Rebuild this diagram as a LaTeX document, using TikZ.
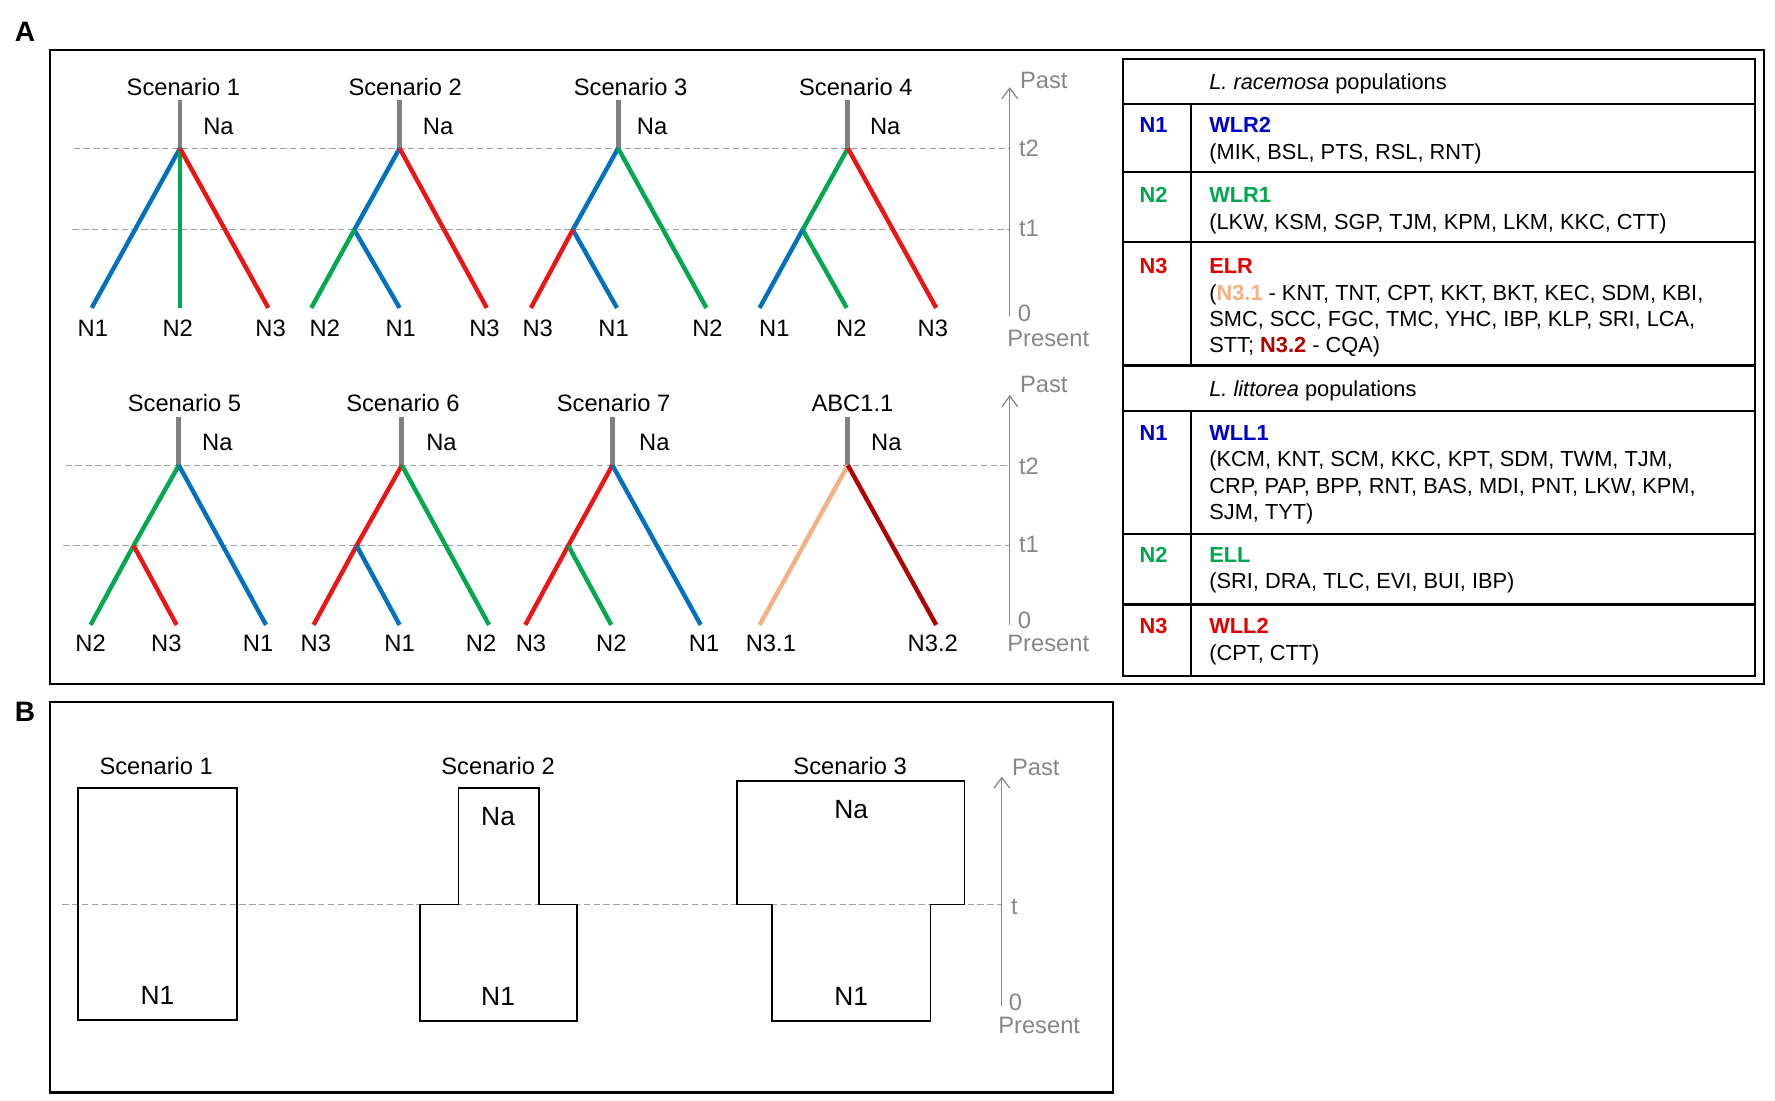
\documentclass[tikz,border=0pt]{standalone}
\usepackage{fontspec}
\setmainfont{Liberation Sans}
\usetikzlibrary{arrows.meta}
\definecolor{brblue}{RGB}{0,112,192}
\definecolor{brgreen}{RGB}{0,168,80}
\definecolor{brred}{RGB}{236,20,20}
\definecolor{brpeach}{RGB}{244,177,131}
\definecolor{brdark}{RGB}{176,0,0}
\definecolor{stemgray}{RGB}{128,128,128}
\definecolor{axisgray}{RGB}{135,135,135}
\definecolor{keyblue}{RGB}{0,0,204}
\definecolor{keygreen}{RGB}{0,166,80}
\definecolor{keyred}{RGB}{228,0,0}

\begin{document}
\begin{tikzpicture}[x=0.02264cm,y=-0.02264cm]
\tikzstyle{every node}+=[inner sep=0pt]
\tikzstyle{lbl}=[font=\fontsize{13.5}{16}\selectfont]
\tikzstyle{graylbl}=[lbl,text=axisgray]
\tikzstyle{boxlbl}=[font=\fontsize{15}{18}\selectfont]
\tikzstyle{tab}=[font=\fontsize{12.4}{15}\selectfont,align=left,anchor=base west]
\tikzstyle{tabkey}=[font=\bfseries\fontsize{12.4}{15}\selectfont,anchor=base]
\tikzstyle{branch}=[line width=2.5pt]
\tikzstyle{nastem}=[line width=2.8pt,draw=stemgray]
\tikzstyle{timeline}=[draw=axisgray!80,line width=0.6pt,dash pattern=on 3.6pt off 2pt]
\tikzstyle{timeaxis}=[draw=axisgray,line width=0.7pt,-{Straight Barb[length=6pt,width=9pt]}]
\tikzstyle{panelbox}=[line width=1.3pt]
\tikzstyle{popbox}=[line width=1.1pt]
\useasboundingbox (0,0) rectangle (1568,972);
\fill[white] (0,0) rectangle (1568,972);

\node[font=\bfseries\fontsize{16}{18}\selectfont] (labA) at (22,28) {A};
\node[font=\bfseries\fontsize{16}{18}\selectfont] (labB) at (22,629) {B};
\draw[panelbox] (44,44) rectangle (1558,604);
\draw[panelbox] (44,620) rectangle (983,965);

\coordinate (ax1lo) at (892,279);
\coordinate (ax1hi) at (892,77);
\coordinate (ax1t2) at (892,131);
\coordinate (ax1t1) at (892,203);
\coordinate (ax2lo) at (892,552);
\coordinate (ax2hi) at (892,349);
\coordinate (ax2t2) at (892,411);
\coordinate (ax2t1) at (892,482);
\coordinate (ax3lo) at (885,889);
\coordinate (ax3hi) at (885,686);
\coordinate (ax3t) at (885,799);
\coordinate (d1a) at (65,131);
\coordinate (d1b) at (64,203);
\coordinate (d2a) at (58,411);
\coordinate (d2b) at (56,482);
\coordinate (d2c) at (704,482);
\coordinate (d2d) at (792,482);
\coordinate (d3) at (55,799);
\draw[timeline] (d1a) -- (ax1t2);
\draw[timeline] (d1b) -- (ax1t1);
\draw[timeline] (d2a) -- (ax2t2);
\draw[timeline] (d2b) -- (d2c);
\draw[timeline] (d2d) -- (ax2t1);
\draw[timeline] (d3) -- (ax3t);
\draw[timeaxis] (ax1lo) -- (ax1hi);
\draw[timeaxis] (ax2lo) -- (ax2hi);
\draw[timeaxis] (ax3lo) -- (ax3hi);
\node[graylbl] (ax1past) at (922,71) {Past};
\node[graylbl] (ax1lt2) at (909,131) {t2};
\node[graylbl] (ax1lt1) at (909,202) {t1};
\node[graylbl] (ax1zero) at (905,277) {0};
\node[graylbl] (ax1pres) at (926,299) {Present};
\node[graylbl] (ax2past) at (922,340) {Past};
\node[graylbl] (ax2lt2) at (909,412) {t2};
\node[graylbl] (ax2lt1) at (909,481) {t1};
\node[graylbl] (ax2zero) at (905,548) {0};
\node[graylbl] (ax2pres) at (926,568) {Present};
\node[graylbl] (ax3past) at (915,678) {Past};
\node[graylbl] (ax3lt) at (896,801) {t};
\node[graylbl] (ax3zero) at (897,885) {0};
\node[graylbl] (ax3pres) at (918,906) {Present};

\coordinate (s1top) at (159,88);
\coordinate (s1r) at (159,131);
\coordinate (s1a) at (81,272);
\coordinate (s1b) at (159,272);
\coordinate (s1c) at (237,272);
\draw[nastem] (s1top) -- (s1r);
\draw[branch,brblue] (s1r) -- (s1a);
\draw[branch,brgreen] (s1r) -- (s1b);
\draw[branch,brred] (s1r) -- (s1c);
\node[lbl] (s1t) at (162,77) {Scenario 1};
\node[lbl] (s1na) at (193,112) {Na};
\node[lbl] (s1la) at (82,290) {N1};
\node[lbl] (s1lb) at (157,290) {N2};
\node[lbl] (s1lc) at (239,290) {N3};

\coordinate (s2top) at (353,88);
\coordinate (s2r) at (353,131);
\coordinate (s2i) at (313,203);
\coordinate (s2a) at (275,272);
\coordinate (s2b) at (353,272);
\coordinate (s2c) at (430,272);
\draw[nastem] (s2top) -- (s2r);
\draw[branch,brblue] (s2r) -- (s2i) -- (s2b);
\draw[branch,brgreen] (s2i) -- (s2a);
\draw[branch,brred] (s2r) -- (s2c);
\node[lbl] (s2t) at (358,77) {Scenario 2};
\node[lbl] (s2na) at (387,112) {Na};
\node[lbl] (s2la) at (287,290) {N2};
\node[lbl] (s2lb) at (354,290) {N1};
\node[lbl] (s2lc) at (428,290) {N3};

\coordinate (s3top) at (546,88);
\coordinate (s3r) at (546,131);
\coordinate (s3i) at (506,203);
\coordinate (s3a) at (469,272);
\coordinate (s3b) at (545,272);
\coordinate (s3c) at (624,272);
\draw[nastem] (s3top) -- (s3r);
\draw[branch,brblue] (s3r) -- (s3i) -- (s3b);
\draw[branch,brred] (s3i) -- (s3a);
\draw[branch,brgreen] (s3r) -- (s3c);
\node[lbl] (s3t) at (557,77) {Scenario 3};
\node[lbl] (s3na) at (576,112) {Na};
\node[lbl] (s3la) at (475,290) {N3};
\node[lbl] (s3lb) at (542,290) {N1};
\node[lbl] (s3lc) at (625,290) {N2};

\coordinate (s4top) at (749,88);
\coordinate (s4r) at (749,131);
\coordinate (s4i) at (709,203);
\coordinate (s4a) at (671,272);
\coordinate (s4b) at (748,272);
\coordinate (s4c) at (827,272);
\draw[nastem] (s4top) -- (s4r);
\draw[branch,brgreen] (s4r) -- (s4i) -- (s4b);
\draw[branch,brblue] (s4i) -- (s4a);
\draw[branch,brred] (s4r) -- (s4c);
\node[lbl] (s4t) at (756,77) {Scenario 4};
\node[lbl] (s4na) at (782,112) {Na};
\node[lbl] (s4la) at (684,290) {N1};
\node[lbl] (s4lb) at (752,290) {N2};
\node[lbl] (s4lc) at (824,290) {N3};

\coordinate (s5top) at (158,368);
\coordinate (s5r) at (158,411);
\coordinate (s5i) at (118,482);
\coordinate (s5a) at (80,552);
\coordinate (s5b) at (156,552);
\coordinate (s5c) at (235,552);
\draw[nastem] (s5top) -- (s5r);
\draw[branch,brgreen] (s5r) -- (s5i) -- (s5a);
\draw[branch,brred] (s5i) -- (s5b);
\draw[branch,brblue] (s5r) -- (s5c);
\node[lbl] (s5t) at (163,356) {Scenario 5};
\node[lbl] (s5na) at (192,391) {Na};
\node[lbl] (s5la) at (80,568) {N2};
\node[lbl] (s5lb) at (147,568) {N3};
\node[lbl] (s5lc) at (228,568) {N1};

\coordinate (s6top) at (355,368);
\coordinate (s6r) at (355,411);
\coordinate (s6i) at (315,482);
\coordinate (s6a) at (277,552);
\coordinate (s6b) at (353,552);
\coordinate (s6c) at (432,552);
\draw[nastem] (s6top) -- (s6r);
\draw[branch,brred] (s6r) -- (s6i) -- (s6a);
\draw[branch,brblue] (s6i) -- (s6b);
\draw[branch,brgreen] (s6r) -- (s6c);
\node[lbl] (s6t) at (356,356) {Scenario 6};
\node[lbl] (s6na) at (390,391) {Na};
\node[lbl] (s6la) at (279,568) {N3};
\node[lbl] (s6lb) at (353,568) {N1};
\node[lbl] (s6lc) at (425,568) {N2};

\coordinate (s7top) at (541,368);
\coordinate (s7r) at (541,411);
\coordinate (s7i) at (502,482);
\coordinate (s7a) at (464,552);
\coordinate (s7b) at (540,552);
\coordinate (s7c) at (619,552);
\draw[nastem] (s7top) -- (s7r);
\draw[branch,brred] (s7r) -- (s7i) -- (s7a);
\draw[branch,brgreen] (s7i) -- (s7b);
\draw[branch,brblue] (s7r) -- (s7c);
\node[lbl] (s7t) at (542,356) {Scenario 7};
\node[lbl] (s7na) at (578,391) {Na};
\node[lbl] (s7la) at (469,568) {N3};
\node[lbl] (s7lb) at (540,568) {N2};
\node[lbl] (s7lc) at (622,568) {N1};

\coordinate (abctop) at (749,368);
\coordinate (abcr) at (749,411);
\coordinate (abca) at (671,552);
\coordinate (abcc) at (827,552);
\draw[nastem] (abctop) -- (abcr);
\draw[branch,brpeach] (abcr) -- (abca);
\draw[branch,brdark] (abcr) -- (abcc);
\node[lbl] (abct) at (753,356) {ABC1.1};
\node[lbl] (abcna) at (783,391) {Na};
\node[lbl] (abcla) at (681,568) {N3.1};
\node[lbl] (abclc) at (824,568) {N3.2};

\draw[panelbox] (992,52) rectangle (1550,597);
\draw[panelbox] (992,92) -- (1550,92);
\draw[panelbox] (992,152) -- (1550,152);
\draw[panelbox] (992,214) -- (1550,214);
\draw[panelbox] (992,323) -- (1550,323);
\draw[panelbox] (992,363) -- (1550,363);
\draw[panelbox] (992,472) -- (1550,472);
\draw[panelbox] (992,534) -- (1550,534);
\draw[panelbox] (1052,92) -- (1052,323);
\draw[panelbox] (1052,363) -- (1052,597);
\node[tab] (hrac) at (1068,79) {\textit{L. racemosa} populations};
\node[tabkey,keyblue] (kr1) at (1019,117.3) {N1};
\node[tab] (tr1) at (1068,140.6) {{\bfseries\color{keyblue}WLR2}\\(MIK, BSL, PTS, RSL, RNT)};
\node[tabkey,keygreen] (kr2) at (1019,179) {N2};
\node[tab] (tr2) at (1068,202.3) {{\bfseries\color{keygreen}WLR1}\\(LKW, KSM, SGP, TJM, KPM, LKM, KKC, CTT)};
\node[tabkey,keyred] (kr3) at (1019,242) {N3};
\node[tab] (tr3) at (1068,311.8) {{\bfseries\color{keyred}ELR}\\({\bfseries\color{brpeach}N3.1} - KNT, TNT, CPT, KKT, BKT, KEC, SDM, KBI,\\SMC, SCC, FGC, TMC, YHC, IBP, KLP, SRI, LCA,\\STT; {\bfseries\color{brdark}N3.2} - CQA)};
\node[tab] (hlit) at (1068,350) {\textit{L. littorea} populations};
\node[tabkey,keyblue] (kl1) at (1019,389) {N1};
\node[tab] (tl1) at (1068,458.8) {{\bfseries\color{keyblue}WLL1}\\(KCM, KNT, SCM, KKC, KPT, SDM, TWM, TJM,\\CRP, PAP, BPP, RNT, BAS, MDI, PNT, LKW, KPM,\\SJM, TYT)};
\node[tabkey,keygreen] (kl2) at (1019,497) {N2};
\node[tab] (tl2) at (1068,520.3) {{\bfseries\color{keygreen}ELL}\\(SRI, DRA, TLC, EVI, BUI, IBP)};
\node[tabkey,keyred] (kl3) at (1019,560) {N3};
\node[tab] (tl3) at (1068,583.3) {{\bfseries\color{keyred}WLL2}\\(CPT, CTT)};

\draw[popbox] (69,696) rectangle (209,901);
\draw[popbox] (405,696) -- (476,696) -- (476,799) -- (510,799) -- (510,902) -- (371,902) -- (371,799) -- (405,799) -- cycle;
\draw[popbox] (651,690) -- (852,690) -- (852,799) -- (822,799) -- (822,902) -- (682,902) -- (682,799) -- (651,799) -- cycle;
\node[lbl] (b1t) at (138,677) {Scenario 1};
\node[lbl] (b2t) at (440,677) {Scenario 2};
\node[lbl] (b3t) at (751,677) {Scenario 3};
\node[boxlbl] (b1n1) at (139,879) {N1};
\node[boxlbl] (b2na) at (440,721) {Na};
\node[boxlbl] (b2n1) at (440,880) {N1};
\node[boxlbl] (b3na) at (752,715) {Na};
\node[boxlbl] (b3n1) at (752,880) {N1};
\end{tikzpicture}
\end{document}
